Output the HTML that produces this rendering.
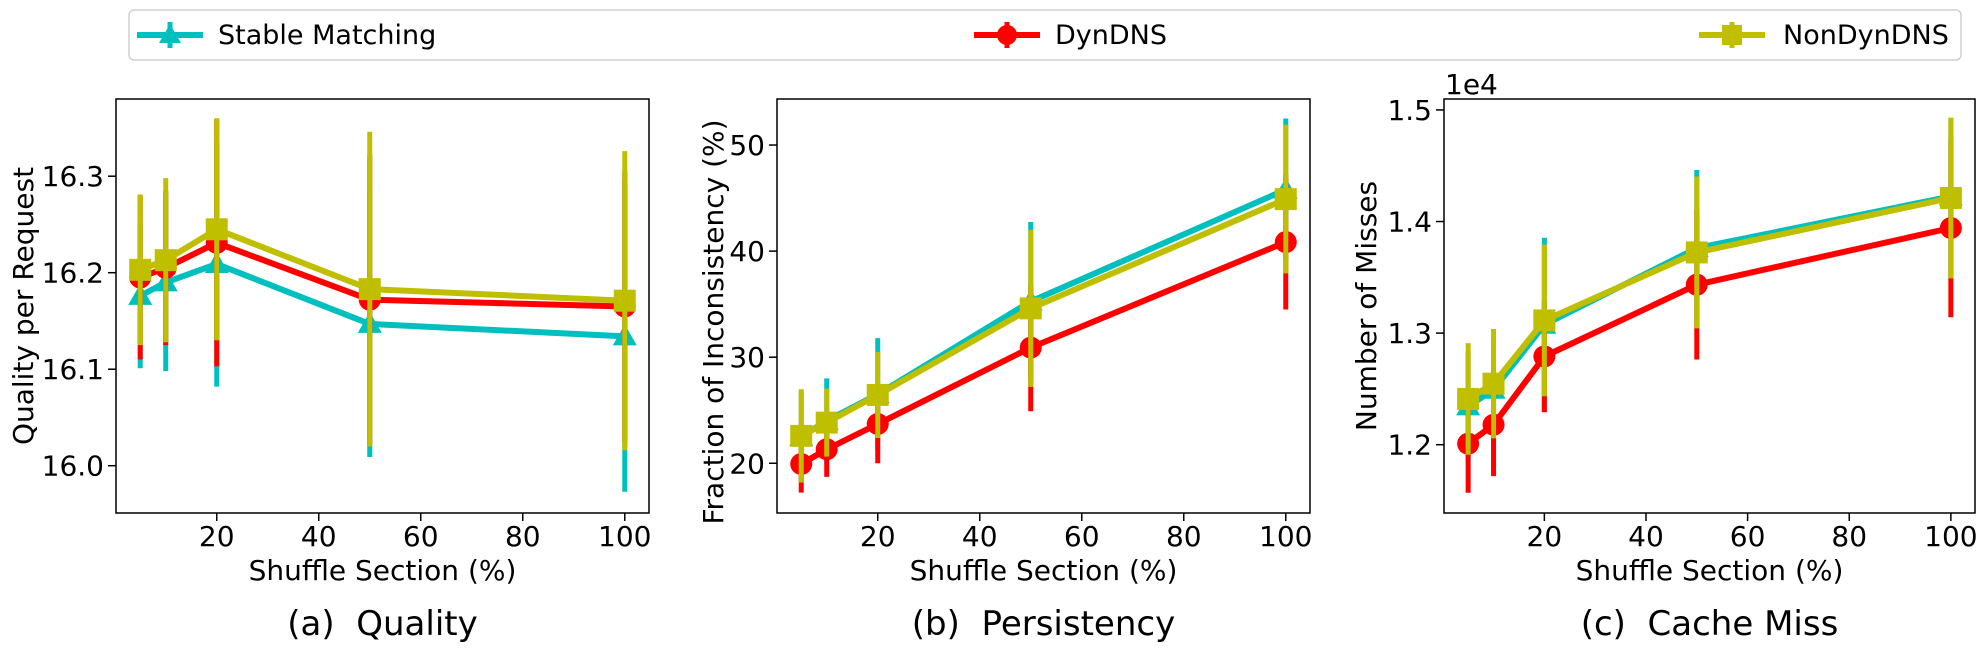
<!DOCTYPE html>
<html><head><meta charset="utf-8"><style>
html,body{margin:0;padding:0;background:#fff;}
svg{display:block;font-family:"DejaVu Sans","Liberation Sans",sans-serif;}
text{white-space:pre;}
</style></head><body>
<svg id="fig" width="1988" height="650" viewBox="0 0 1988 650" xmlns="http://www.w3.org/2000/svg">
<g>
<rect x="129" y="10" width="1832" height="50" rx="5" fill="#fff" stroke="#d0d0d0" stroke-width="1.5"/>
<g>
<line x1="137" y1="35" x2="203" y2="35" stroke="#00bfbf" stroke-width="6"/>
<line x1="170" y1="22" x2="170" y2="48" stroke="#00bfbf" stroke-width="5"/>
<polygon points="170,24 181,43 159,43" fill="#00bfbf"/>
<text x="218" y="44" font-size="27" fill="#000">Stable Matching</text></g>
<g>
<line x1="974" y1="35" x2="1040" y2="35" stroke="#ff0000" stroke-width="6"/>
<line x1="1007" y1="22" x2="1007" y2="48" stroke="#ff0000" stroke-width="5"/>
<circle cx="1007" cy="35" r="10" fill="#ff0000"/>
<text x="1055" y="44" font-size="27" fill="#000">DynDNS</text></g>
<g>
<line x1="1699" y1="35" x2="1765" y2="35" stroke="#bfbf00" stroke-width="6"/>
<line x1="1732" y1="22" x2="1732" y2="48" stroke="#bfbf00" stroke-width="5"/>
<rect x="1722" y="25" width="20" height="20" fill="#bfbf00"/>
<text x="1783" y="44" font-size="27" fill="#000">NonDynDNS</text></g>
</g>
</svg>
<script>
const xValues = [5, 10, 20, 50, 100];
const xTicks = [20, 40, 60, 80, 100];

const qualitySM = [16.176, 16.190, 16.209, 16.147, 16.134];
const qualitySMErr = [0.075, 0.092, 0.127, 0.138, 0.161];
const qualityDyn = [16.195, 16.205, 16.231, 16.172, 16.165];
const qualityDynErr = [0.085, 0.080, 0.128, 0.150, 0.140];
const qualityNon = [16.203, 16.213, 16.245, 16.183, 16.171];
const qualityNonErr = [0.078, 0.085, 0.115, 0.163, 0.155];
const qualityTicks = [16.0, 16.1, 16.2, 16.3];
const qualityTickLabels = ["16.0", "16.1", "16.2", "16.3"];

const persSM = [22.5, 24.0, 26.5, 35.25, 45.8];
const persSMErr = [4.3, 4.0, 5.3, 7.5, 6.7];
const persDyn = [19.93, 21.32, 23.7, 30.9, 40.85];
const persDynErr = [2.7, 2.6, 3.7, 6.0, 6.35];
const persNon = [22.58, 23.83, 26.44, 34.6, 44.9];
const persNonErr = [4.4, 3.2, 4.06, 7.4, 7.0];
const persTicks = [20, 30, 40, 50];
const persTickLabels = ["20", "30", "40", "50"];

const missSM = [1.2343, 1.2493, 1.3075, 1.3762, 1.4225];
const missSMErr = [0.050, 0.045, 0.078, 0.070, 0.070];
const missDyn = [1.2009, 1.2179, 1.2791, 1.3434, 1.3942];
const missDynErr = [0.044, 0.046, 0.050, 0.067, 0.080];
const missNon = [1.2410, 1.2547, 1.3114, 1.3723, 1.4211];
const missNonErr = [0.050, 0.049, 0.068, 0.068, 0.072];
const missTicks = [1.2, 1.3, 1.4, 1.5];
const missTickLabels = ["1.2", "1.3", "1.4", "1.5"];

const NS = "http://www.w3.org/2000/svg";
const svg = document.getElementById("fig");
function mk(tag, attrs, parent) {
  const e = document.createElementNS(NS, tag);
  for (const k in attrs) e.setAttribute(k, attrs[k]);
  (parent || svg).appendChild(e);
  return e;
}

const panels = [
  {key:"quality", left:116, right:649, top:99, bottom:513, ymin:15.951, ymax:16.38,
   sm:qualitySM, smE:qualitySMErr, dyn:qualityDyn, dynE:qualityDynErr, non:qualityNon, nonE:qualityNonErr,
   yt:qualityTicks, ytl:qualityTickLabels, ylabel:"Quality per Request", ylabelX:22, ylabelY:306, caption:"(a)  Quality"},
  {key:"persistency", left:777, right:1310, top:99, bottom:513, ymin:15.31, ymax:54.34,
   sm:persSM, smE:persSMErr, dyn:persDyn, dynE:persDynErr, non:persNon, nonE:persNonErr,
   yt:persTicks, ytl:persTickLabels, ylabel:"Fraction of Inconsistency (%)", ylabelX:712, ylabelY:322, caption:"(b)  Persistency"},
  {key:"cache-miss", left:1444, right:1975, top:99, bottom:513, ymin:1.1388, ymax:1.5098,
   sm:missSM, smE:missSMErr, dyn:missDyn, dynE:missDynErr, non:missNon, nonE:missNonErr,
   yt:missTicks, ytl:missTickLabels, ylabel:"Number of Misses", ylabelX:1365, ylabelY:306, caption:"(c)  Cache Miss", offset:"1e4"}
];

panels.forEach(p => {
  const g = mk("g", {});
  
  
  const xs = v => p.left + (v - 0.25) / (104.75 - 0.25) * (p.right - p.left);
  const ys = v => p.bottom - (v - p.ymin) / (p.ymax - p.ymin) * (p.bottom - p.top);
  const plot = mk("g", {}, g);
  
  

  const series = [
    {name:"stable-matching", c:"#00bfbf", v:p.sm, e:p.smE, m:"tri"},
    {name:"dyndns", c:"#ff0000", v:p.dyn, e:p.dynE, m:"circle"},
    {name:"nondyndns", c:"#bfbf00", v:p.non, e:p.nonE, m:"square"}
  ];
  series.forEach(s => {
    const sg = mk("g", {}, plot);
    
    
    const pts = xValues.map((x, i) => xs(x).toFixed(1) + "," + ys(s.v[i]).toFixed(1)).join(" ");
    const ln = mk("polyline", {points:pts, fill:"none", stroke:s.c, "stroke-width":6, "stroke-linejoin":"round"}, sg);
    
    
    xValues.forEach((x, i) => {
      const b = mk("line", {x1:xs(x), x2:xs(x), y1:ys(s.v[i] - s.e[i]), y2:ys(s.v[i] + s.e[i]), stroke:s.c, "stroke-width":5}, sg);
      
      
    });
    xValues.forEach((x, i) => {
      const cx = xs(x), cy = ys(s.v[i]);
      let m;
      if (s.m === "tri") m = mk("polygon", {points:`${cx},${cy-12} ${cx+12},${cy+9} ${cx-12},${cy+9}`, fill:s.c}, sg);
      else if (s.m === "circle") m = mk("circle", {cx:cx, cy:cy, r:11, fill:s.c}, sg);
      else m = mk("rect", {x:cx-11, y:cy-11, width:22, height:22, fill:s.c}, sg);
      
      
    });
  });

  const frame = mk("rect", {x:p.left, y:p.top, width:p.right-p.left, height:p.bottom-p.top, fill:"none", stroke:"#000", "stroke-width":1.5}, g);
  
  

  const xa = mk("g", {}, g);
  
  
  xTicks.forEach(t => {
    mk("line", {x1:xs(t), x2:xs(t), y1:p.bottom, y2:p.bottom+8, stroke:"#000", "stroke-width":1.5}, xa);
    const tl = mk("text", {x:xs(t), y:546, "font-size":28, "text-anchor":"middle"}, xa);
    tl.textContent = t;
    
    
  });
  const xl = mk("text", {x:(p.left+p.right)/2, y:580, "font-size":28, "text-anchor":"middle"}, g);
  xl.textContent = "Shuffle Section (%)";
  
  

  const ya = mk("g", {}, g);
  
  
  p.yt.forEach((t, i) => {
    mk("line", {x1:p.left-8, x2:p.left, y1:ys(t), y2:ys(t), stroke:"#000", "stroke-width":1.5}, ya);
    const tl = mk("text", {x:p.left-12, y:ys(t)+10, "font-size":28, "text-anchor":"end"}, ya);
    tl.textContent = p.ytl[i];
    
    
  });
  const yl = mk("text", {x:0, y:0, "font-size":28, "text-anchor":"middle", transform:`translate(${p.ylabelX+11},${p.ylabelY}) rotate(-90)`}, g);
  yl.textContent = p.ylabel;
  
  
  if (p.offset) {
    const o = mk("text", {x:p.left+1, y:94, "font-size":28}, g);
    o.textContent = p.offset;
    
    
  }
  const cap = mk("text", {x:(p.left+p.right)/2, y:635, "font-size":34, "text-anchor":"middle"}, g);
  cap.textContent = p.caption;
  
  
});
</script>
</body></html>
